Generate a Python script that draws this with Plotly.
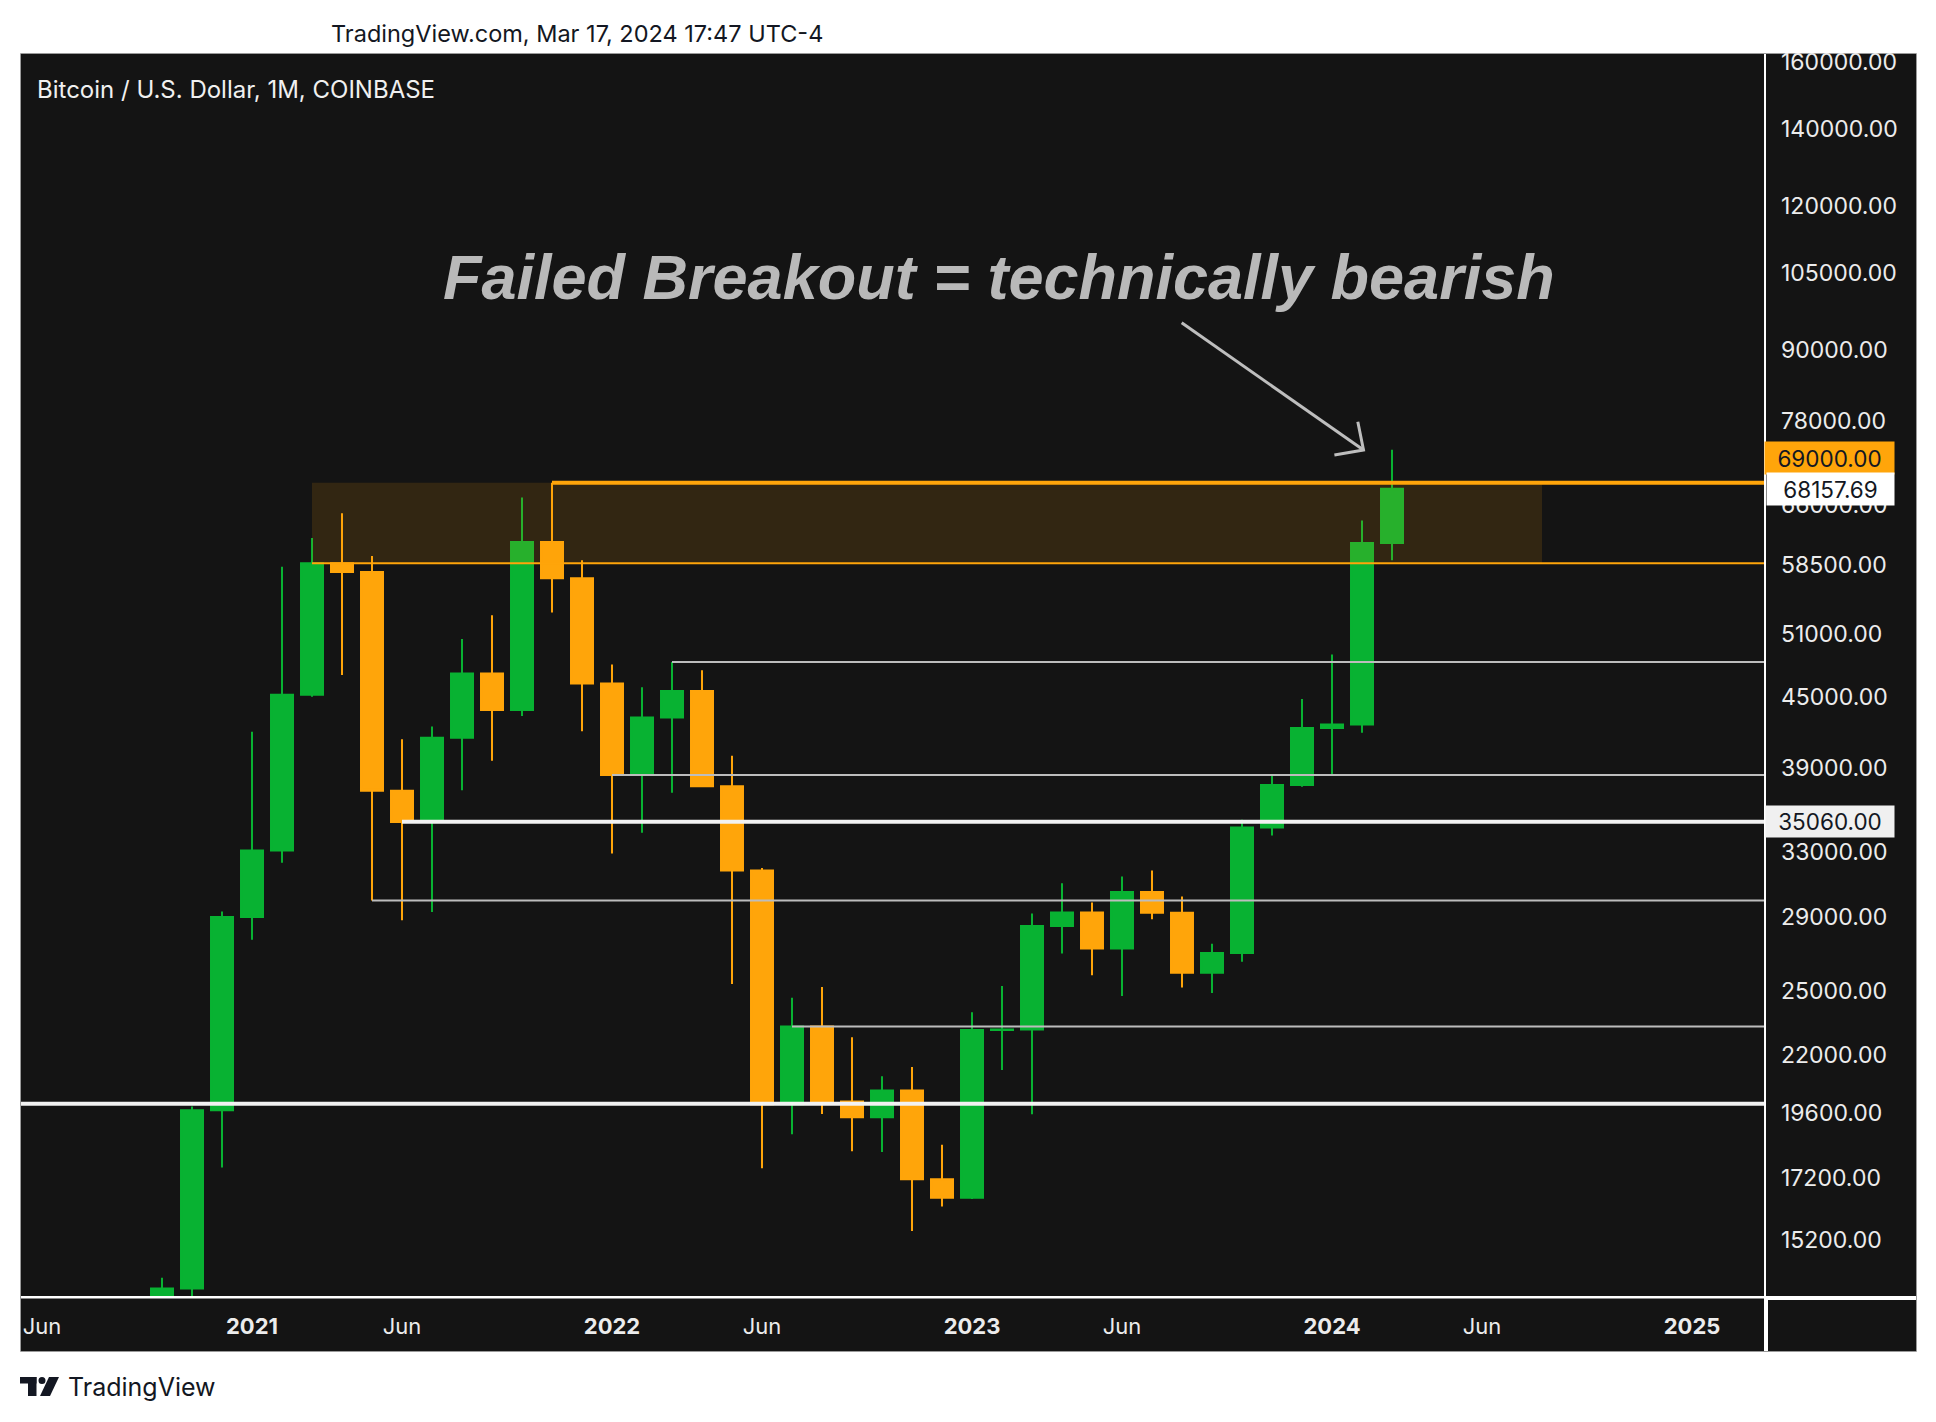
import math
import plotly.graph_objects as go

# ---------------- data ----------------
month_index = list(range(-3, 39))  # 0 = Jan 2021, monthly bars Oct 2020 .. Mar 2024
open_p = [10780, 13800, 19700, 28990, 33100, 45180, 58740, 57720, 37300, 35040,
          41460, 47130, 43820, 61300, 57000, 46200, 38480, 43160, 45510, 37640,
          31800, 19940, 23290, 20050, 19430, 20490, 17170, 16540, 23130, 23150,
          28470, 29250, 27210, 30470, 29230, 25930, 26970, 34650, 37720, 42280,
          42580, 61170]
high_p = [14100, 19850, 29300, 41950, 58350, 61800, 64900, 59600, 41330, 42400,
          50500, 52950, 67000, 69000, 59100, 47990, 45850, 48240, 47440, 40000,
          31960, 24670, 25200, 22800, 21090, 21480, 18390, 23960, 25250, 29190,
          31000, 29840, 31430, 31800, 30200, 27480, 35200, 38430, 44800, 48970,
          63970, 73700]
low_p = [10400, 13200, 17570, 27700, 32300, 45000, 47000, 29950, 28800, 29280,
         37330, 39600, 43300, 53250, 42000, 32900, 34300, 37150, 37580, 25350,
         17550, 18780, 19560, 18150, 18130, 15480, 16260, 16500, 21350, 19550,
         26940, 25800, 24750, 28860, 25170, 24900, 26500, 34100, 37600, 38550,
         41880, 59100]
close_p = [13800, 19700, 28990, 33100, 45180, 58740, 57720, 37300, 35040, 41460,
           47130, 43820, 61300, 57000, 46200, 38480, 43160, 45510, 37640, 31800,
           19940, 23290, 20050, 19430, 20490, 17170, 16540, 23130, 23150, 28470,
           29250, 27210, 30470, 29230, 25930, 26970, 34650, 37720, 42280, 42580,
           61170, 68157.69]

# horizontal levels drawn on the chart (price, starting month index)
level_price = [69000, 58740, 48240, 38480, 35060, 29950, 23290, 19960]
level_start = [10, 2, 14, 12, 5, 4, 18, -20]

# resistance zone (month span, price span)
zone_months = [2, 43]
zone_prices = [58740, 69000]

# axis ticks
time_tick_idx = [-7, 0, 5, 12, 17, 24, 29, 36, 41, 48]
time_tick_txt = ["Jun", "2021", "Jun", "2022", "Jun", "2023", "Jun", "2024", "Jun", "2025"]
price_ticks = [15200, 17200, 19600, 22000, 25000, 29000, 33000, 39000, 45000, 51000,
               58500, 66000, 78000, 90000, 105000, 120000, 140000, 160000]

last_price = 68157.69
hi_label = 69000
sup_label = 35060

# ---------------- style ----------------
W, H = 1936, 1422
PL, PR, PT, PB = 21, 1764, 54, 1296
BG = "#141414"
UP = "#08b232"
DN = "#ffa50a"
GRAY = "#bdbdbd"
WHITE = "#f2f2f2"
X_RIGHT = 60

def xp(px):
    return (px - PL) / (PR - PL)

def yp(py):
    return (PB - py) / (PB - PT)

fig = go.Figure()

fig.add_trace(go.Candlestick(
    x=month_index, open=open_p, high=high_p, low=low_p, close=close_p,
    increasing=dict(line=dict(color=UP, width=2), fillcolor=UP),
    decreasing=dict(line=dict(color=DN, width=2), fillcolor=DN),
    whiskerwidth=0, showlegend=False, hoverinfo="skip"))

# zone (translucent, above candles)
fig.add_trace(go.Scatter(
    x=[zone_months[0], zone_months[1], zone_months[1], zone_months[0], zone_months[0]],
    y=[zone_prices[0], zone_prices[0], zone_prices[1], zone_prices[1], zone_prices[0]],
    fill="toself", fillcolor="rgba(255,165,10,0.13)", mode="lines",
    line=dict(width=0), showlegend=False, hoverinfo="skip"))

level_colors = [DN, DN, GRAY, GRAY, WHITE, GRAY, GRAY, WHITE]
level_widths = [4, 2, 2, 2, 4, 2, 2, 4]
for p, s, c, w in zip(level_price, level_start, level_colors, level_widths):
    fig.add_trace(go.Scatter(x=[s, X_RIGHT], y=[p, p], mode="lines",
                             line=dict(color=c, width=w), showlegend=False,
                             hoverinfo="skip"))

# arrow (data anchored)
arrow_x = [30.99, 37.05, None, 36.86, 37.05, 36.08]
arrow_y = [94960, 73657, None, 77934, 73657, 72928]
fig.add_trace(go.Scatter(x=arrow_x, y=arrow_y, mode="lines",
                         line=dict(color="#bebebe", width=3), showlegend=False,
                         hoverinfo="skip"))

shapes = []
# price pane
shapes.append(dict(type="rect", xref="paper", yref="paper", x0=xp(1766), x1=xp(1916),
                   y0=yp(1296), y1=yp(54), fillcolor=BG, line=dict(width=0), layer="below"))
# time pane
shapes.append(dict(type="rect", xref="paper", yref="paper", x0=xp(21), x1=xp(1764),
                   y0=yp(1351), y1=yp(1298.5), fillcolor=BG, line=dict(width=0), layer="below"))
shapes.append(dict(type="rect", xref="paper", yref="paper", x0=xp(1768), x1=xp(1916),
                   y0=yp(1351), y1=yp(1300), fillcolor=BG, line=dict(width=0), layer="below"))
# thin outer frame
shapes.append(dict(type="rect", xref="paper", yref="paper", x0=xp(20.5), x1=xp(1916.5),
                   y0=yp(1351.5), y1=yp(53.5), fillcolor="rgba(0,0,0,0)",
                   line=dict(color="#9a9a9a", width=1), layer="below"))
# TradingView logo
LOGO = "#131722"
shapes.append(dict(type="rect", xref="paper", yref="paper", x0=xp(20), x1=xp(36.5),
                   y0=yp(1383.5), y1=yp(1377), fillcolor=LOGO, line=dict(width=0)))
shapes.append(dict(type="rect", xref="paper", yref="paper", x0=xp(28), x1=xp(36.5),
                   y0=yp(1396), y1=yp(1377), fillcolor=LOGO, line=dict(width=0)))
shapes.append(dict(type="circle", xref="paper", yref="paper", x0=xp(38.5), x1=xp(45.5),
                   y0=yp(1384), y1=yp(1377), fillcolor=LOGO, line=dict(width=0)))
shapes.append(dict(type="path", xref="paper", yref="paper",
                   path="M {} {} L {} {} L {} {} L {} {} Z".format(
                       xp(49), yp(1377), xp(59), yp(1377), xp(50), yp(1396), xp(40), yp(1396)),
                   fillcolor=LOGO, line=dict(width=0)))

label_font = dict(family="Inter", size=22.5, color="#131722")
annotations = [
    dict(text="TradingView.com, Mar 17, 2024 17:47 UTC-4", xref="paper", yref="paper",
         x=xp(577), y=yp(34), xanchor="center", yanchor="middle", showarrow=False,
         font=dict(family="Inter", size=23.5, color="#131722")),
    dict(text="Bitcoin / U.S. Dollar, 1M, COINBASE", xref="paper", yref="paper",
         x=xp(35), y=yp(89), xanchor="left", yanchor="middle", showarrow=False,
         font=dict(family="Inter", size=24, color="#f0f0f0")),
    dict(text="Failed Breakout = technically bearish", xref="x", yref="y",
         x=24.9, y=math.log10(104000), xanchor="center", yanchor="middle", showarrow=False,
         font=dict(family="Liberation Sans", size=63, color="#b9b9b9",
                   weight="bold", style="italic")),
    dict(text="TradingView", xref="paper", yref="paper", x=xp(66), y=yp(1387),
         xanchor="left", yanchor="middle", showarrow=False,
         font=dict(family="Inter", size=25, color="#131722")),
    dict(text=f"{hi_label:.2f}", xref="paper", yref="y", x=1, y=math.log10(hi_label),
         xanchor="left", yanchor="middle", yshift=25, showarrow=False, bgcolor=DN,
         width=129, height=32, borderpad=0, font=label_font),
    dict(text=f"{last_price:.2f}", xref="paper", yref="y", x=1, y=math.log10(last_price),
         xanchor="left", yanchor="middle", showarrow=False, bgcolor="#ffffff",
         width=127, height=32, borderpad=0, xshift=2, font=label_font),
    dict(text=f"{sup_label:.2f}", xref="paper", yref="y", x=1, y=math.log10(sup_label),
         xanchor="left", yanchor="middle", showarrow=False, bgcolor="#f0f0f0",
         width=128, height=31, borderpad=0, xshift=1, font=label_font),
]

tick_text = [f"<b>{t}</b>" if t.isdigit() else t for t in time_tick_txt]

fig.update_layout(
    width=W, height=H,
    margin=dict(l=PL, r=W - PR, t=PT, b=H - PB, pad=0),
    paper_bgcolor="#ffffff", plot_bgcolor=BG,
    boxgap=0.267, boxgroupgap=0,
    showlegend=False,
    shapes=shapes, annotations=annotations,
    xaxis=dict(range=[-7.7, 50.4], showgrid=False, zeroline=False, showline=False,
               tickmode="array", tickvals=time_tick_idx, ticktext=tick_text,
               tickfont=dict(family="Inter", size=22, color="#ececec"),
               ticks="", ticklabelstandoff=15, rangeslider=dict(visible=False),
               fixedrange=True),
    yaxis=dict(type="log", range=[4.1334, 5.2107], side="right", showgrid=False,
               zeroline=False, showline=False, tickmode="array", tickvals=price_ticks,
               ticktext=[f"{v:.2f}" for v in price_ticks],
               tickfont=dict(family="Inter", size=23, color="#ececec"),
               ticks="", ticklabelstandoff=16, fixedrange=True),
)

fig.write_html("out.html", config={"displayModeBar": False},
               post_script="document.body.style.margin='0';document.documentElement.style.overflow='hidden';")
